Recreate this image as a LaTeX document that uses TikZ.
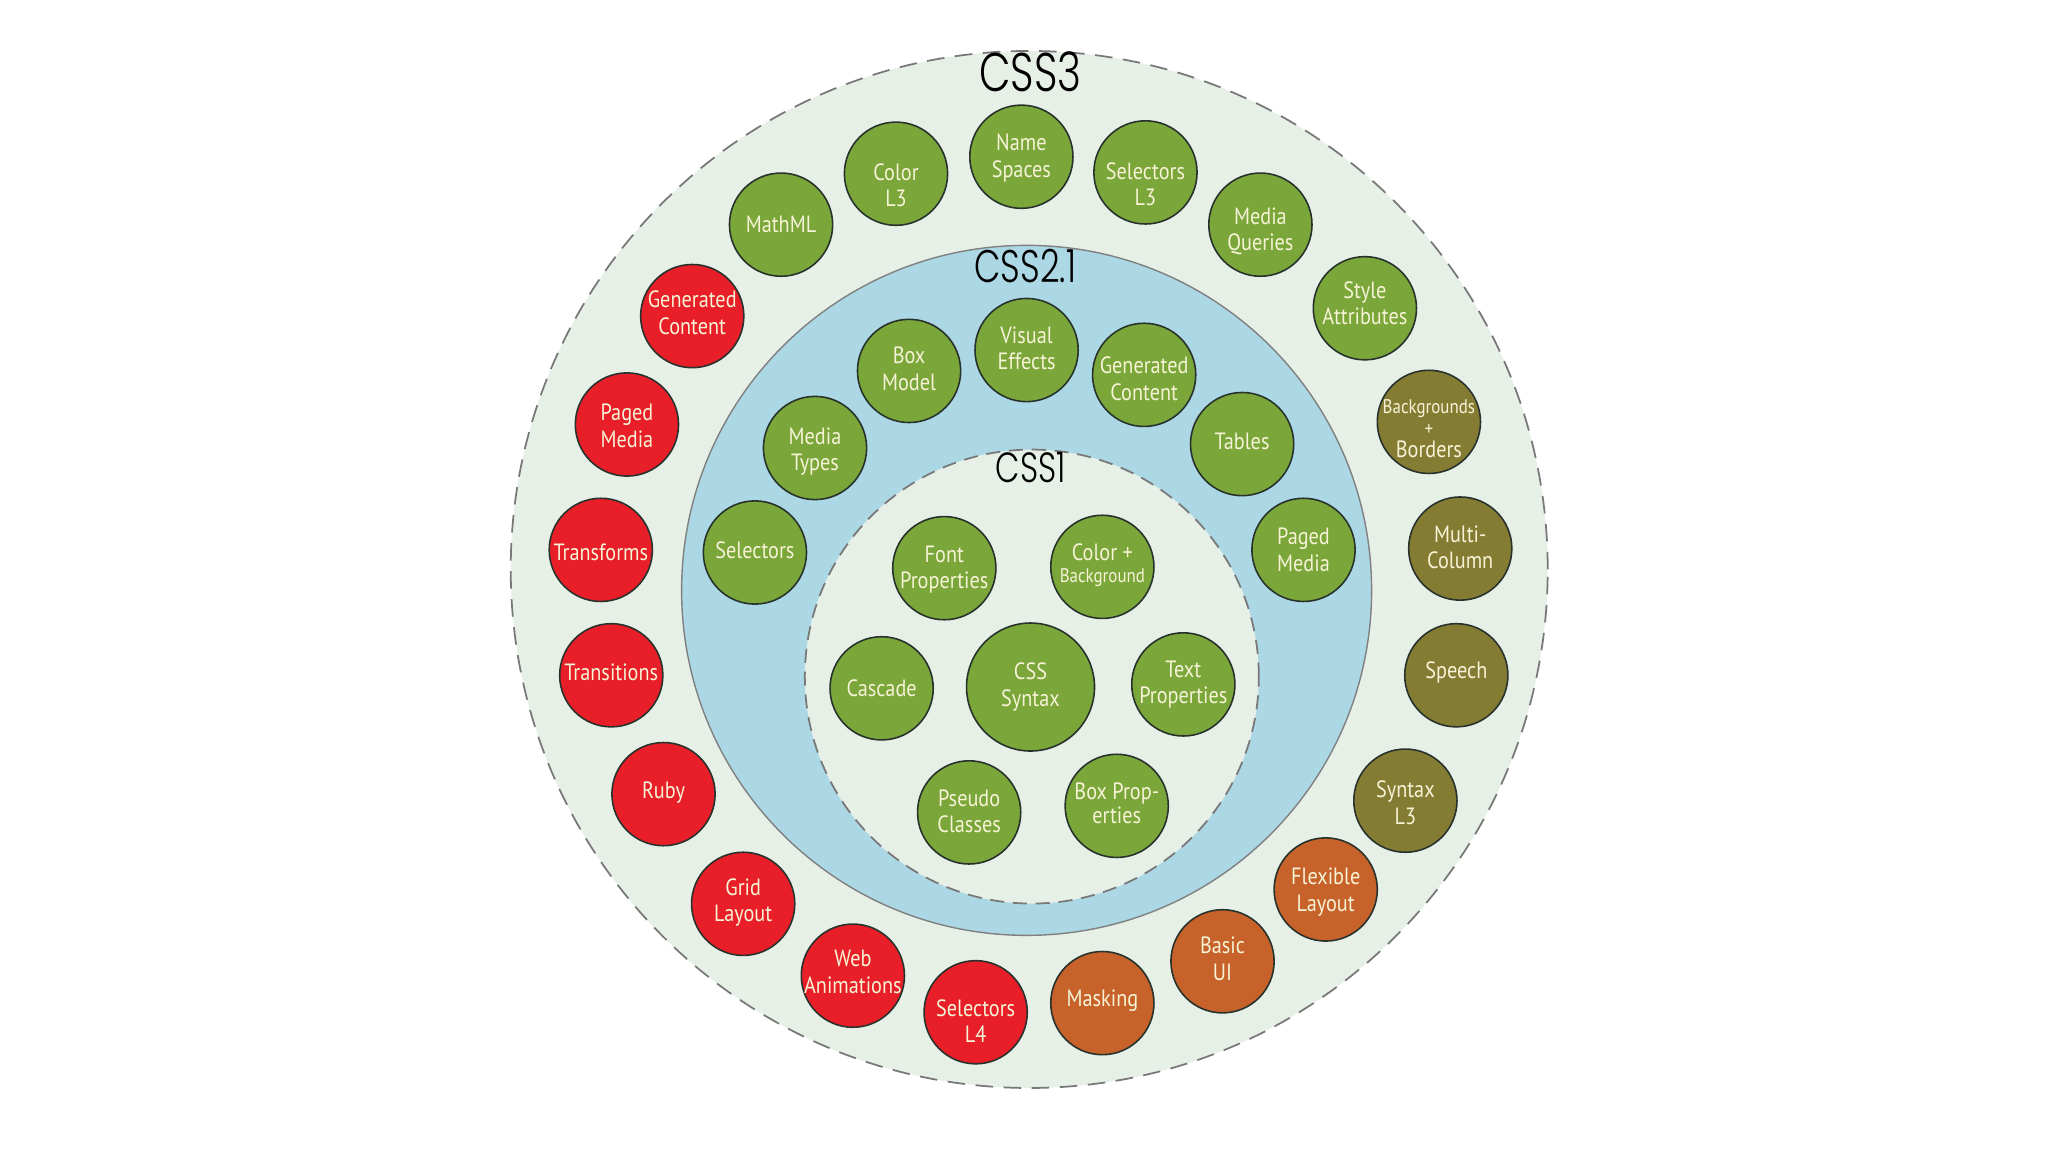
\documentclass[tikz,border=0pt]{standalone}
\usepackage{fontspec}
\setmainfont{PT Sans}[FakeStretch=0.86]
\newfontfamily\ttlfont{Poppins Light}[FakeStretch=0.75]
\definecolor{bggreen}{RGB}{230,240,231}
\definecolor{ringblue}{RGB}{172,215,228}
\definecolor{bgreen}{RGB}{122,166,58}
\definecolor{bred}{RGB}{232,30,40}
\definecolor{bolive}{RGB}{133,124,52}
\definecolor{borange}{RGB}{198,98,42}
\definecolor{bline}{RGB}{40,50,45}
\definecolor{btext}{RGB}{246,243,214}
\definecolor{dashgray}{RGB}{120,120,120}
\newcommand{\bubfont}{\fontsize{6.7}{7.5}\selectfont}
\newcommand{\tinyfont}{\fontsize{5.6}{6.2}\selectfont}
\tikzset{
  bub/.style={circle, draw=bline, line width=0.45pt, minimum size=1.032cm, inner sep=0pt},
  btx/.style={inner sep=0pt, align=center, text=btext, font=\bubfont},
  gb/.style={bub, fill=bgreen},
  rb/.style={bub, fill=bred},
  ob/.style={bub, fill=bolive},
  yb/.style={bub, fill=borange},
  ring/.style={circle, inner sep=0pt},
  ttl/.style={inner sep=0pt, text=black}
}
% #1 style, #2 name, #3 position, #4 text offset (px, downward), #5 text
\newcommand{\bubble}[5]{%
  \node[#1] (#2) at (#3) {};
  \node[btx] (#2-t) at ([shift={(0,#4)}]#2.center) {#5};}
\begin{document}
\begin{tikzpicture}[x=0.013061cm, y=-0.013061cm]
\useasboundingbox[fill=white] (0,0) rectangle (1568,882);
% rings
\node[ring, fill=bggreen, draw=dashgray, dash pattern=on 5pt off 3pt, line width=0.5pt, minimum size=10.37cm] (css3) at (788,436) {};
\node[ring, fill=ringblue, draw=gray, line width=0.4pt, minimum size=6.90cm] (css21) at (786,452) {};
\node[ring, fill=bggreen, draw=dashgray, dash pattern=on 4pt off 2.5pt, line width=0.5pt, minimum size=4.54cm] (css1) at (790,518) {};
% titles
\node[ttl, font=\ttlfont\fontsize{15.5}{16}\selectfont] (t3) at (789,55) {CSS3};
\node[ttl, font=\ttlfont\fontsize{13}{14}\selectfont] (t21) at (785,204) {CSS2.1};
\node[ttl, font=\ttlfont\fontsize{12}{13}\selectfont] (t1) at (789,358) {CSS1};
% CSS3 ring
\bubble{gb}{ns}{782,120}{1}{Name\\Spaces}
\bubble{gb}{sl3}{877,132}{9}{Selectors\\L3}
\bubble{gb}{mq}{965,172}{5}{Media\\Queries}
\bubble{gb}{sa}{1045,236}{-4}{Style\\Attributes}
\bubble{ob}{bb}{1094,323}{5}{{\tinyfont Backgrounds}\\[-1.3pt]{\tinyfont +}\\[-1.3pt]Borders}
\bubble{ob}{mc}{1118,420}{-1}{Multi-\\Column}
\bubble{ob}{sp}{1115,517}{-2}{Speech}
\bubble{ob}{sx}{1076,613}{1.5}{Syntax\\L3}
\bubble{yb}{fl}{1015,681}{2}{Flexible\\Layout}
\bubble{yb}{bu}{936,736}{-2}{Basic\\UI}
\bubble{yb}{mk}{844,768}{-2}{Masking}
\bubble{rb}{sl4}{747,775}{7}{Selectors\\L4}
\bubble{rb}{wa}{653,747}{-3}{Web\\Animations}
\bubble{rb}{gl}{569,692}{-1}{Grid\\Layout}
\bubble{rb}{rby}{508,608}{-1}{Ruby}
\bubble{rb}{tn}{468,517}{-2}{Transitions}
\bubble{rb}{tf}{460,421}{2}{Transforms}
\bubble{rb}{pm3}{480,325}{1}{Paged\\Media}
\bubble{rb}{gc3}{530,242}{-2.5}{Generated\\Content}
\bubble{gb}{mm}{598,172}{0}{MathML}
\bubble{gb}{cl3}{686,133}{9}{Color\\L3}
% CSS2.1 ring
\bubble{gb}{bm}{696,284}{-1.5}{Box\\Model}
\bubble{gb}{ve}{786,268}{-1.5}{Visual\\Effects}
\bubble{gb}{gc2}{876,287}{3}{Generated\\Content}
\bubble{gb}{tb}{951,340}{-2}{Tables}
\bubble{gb}{pm2}{998,421}{0}{Paged\\Media}
\bubble{gb}{mt}{624,343}{2.5}{Media\\Types}
\bubble{gb}{sel}{578,423}{-2}{Selectors}
% CSS1
\bubble{gb}{fp}{723,435}{1}{Font\\Properties}
\bubble{gb}{cb}{844,434}{-1}{Color +\\[-1.2pt]{\tinyfont Background}}
\bubble{gb}{cc}{675,527}{0}{Cascade}
\node[gb, minimum size=1.28cm] (cs) at (789,526) {};
\node[btx] (cs-t) at (cs.center) {CSS\\Syntax};
\bubble{gb}{tp}{906,524}{0}{Text\\Properties}
\bubble{gb}{pc}{742,622}{-1}{Pseudo\\Classes}
\bubble{gb}{bp}{855,617}{-2}{Box Prop-\\[-0.8pt]erties}
\end{tikzpicture}
\end{document}
